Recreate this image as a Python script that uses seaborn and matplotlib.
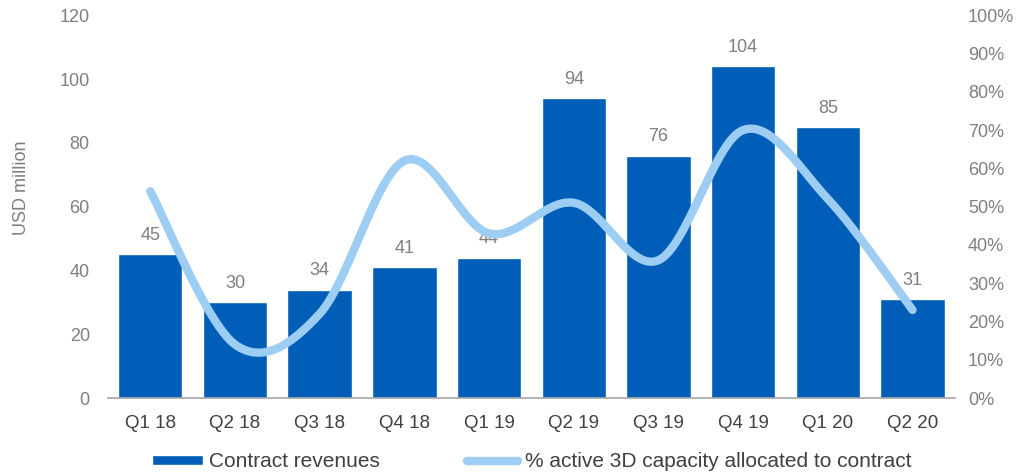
import numpy as np
import pandas as pd
import seaborn as sns
import matplotlib.pyplot as plt
from matplotlib.patches import Patch
from matplotlib.lines import Line2D
from matplotlib.ticker import PercentFormatter

# データ
quarters = ["Q1 18", "Q2 18", "Q3 18", "Q4 18", "Q1 19", "Q2 19", "Q3 19", "Q4 19", "Q1 20", "Q2 20"]
revenues = [45, 30, 34, 41, 44, 94, 76, 104, 85, 31]
capacity_pct = [54, 14, 22, 62, 43, 51, 36, 70, 52, 23]

bar_color = "#005EB8"
line_color = "#9DCDF2"
text_gray = "#7F7F7F"
dark_gray = "#404040"


def smooth(x, y, steps=30):
    # Excel風のスムージング（Catmull-Rom）
    x = np.asarray(x, float)
    y = np.asarray(y, float)
    px = np.concatenate([[x[0]], x, [x[-1]]])
    py = np.concatenate([[y[0]], y, [y[-1]]])
    xs, ys = [], []
    for i in range(1, len(px) - 2):
        t = np.linspace(0, 1, steps, endpoint=False)
        for p, out in ((px, xs), (py, ys)):
            p0, p1, p2, p3 = p[i - 1], p[i], p[i + 1], p[i + 2]
            c1 = p1 + (p2 - p0) / 6
            c2 = p2 - (p3 - p1) / 6
            out.extend((1 - t) ** 3 * p1 + 3 * (1 - t) ** 2 * t * c1
                       + 3 * (1 - t) * t ** 2 * c2 + t ** 3 * p2)
    xs.append(x[-1])
    ys.append(y[-1])
    return np.array(xs), np.array(ys)


df = pd.DataFrame({"quarter": quarters, "revenue": revenues, "pct": capacity_pct})

sns.set_style("white")
plt.rcParams["font.family"] = ["Liberation Sans", "DejaVu Sans"]

fig = plt.figure(figsize=(10.18, 4.75), dpi=100)
ax = fig.add_axes([0.106, 0.162, 0.832, 0.806])

sns.barplot(data=df, x="quarter", y="revenue", color=bar_color, width=0.76,
            saturation=1, ax=ax)
for i, v in enumerate(revenues):
    ax.text(i, v + 3.2, str(v), ha="center", va="bottom", fontsize=13, color=text_gray)

ax.set_ylim(0, 120)
ax.set_yticks(range(0, 121, 20))
ax.set_xlim(-0.5, 9.5)
ax.set_xlabel("")
ax.set_ylabel("USD million", fontsize=13, color=text_gray)
ax.yaxis.set_label_coords(-0.092, 0.548)
ax.tick_params(axis="y", labelsize=13, labelcolor=text_gray, length=0, pad=13)
ax.tick_params(axis="x", labelsize=13.5, labelcolor=dark_gray, length=0, pad=12)
for s in ["top", "right", "left"]:
    ax.spines[s].set_visible(False)
ax.spines["bottom"].set_color("#A6A6A6")
ax.spines["bottom"].set_linewidth(1.2)

ax2 = ax.twinx()
sx, sy = smooth(range(len(quarters)), capacity_pct)
sns.lineplot(x=sx, y=sy, color=line_color, linewidth=6, sort=False, ax=ax2,
             solid_capstyle="round")
ax2.set_ylim(0, 100)
ax2.set_yticks(range(0, 101, 10))
ax2.yaxis.set_major_formatter(PercentFormatter(decimals=0))
ax2.tick_params(axis="y", labelsize=13, labelcolor=text_gray, length=0, pad=9.5)
for s in ax2.spines.values():
    s.set_visible(False)

handles = [Patch(facecolor=bar_color, label="Contract revenues"),
           Line2D([0], [0], color=line_color, linewidth=6,
                  label="% active 3D capacity allocated to contract")]
ax.legend(handles=handles, loc="center", bbox_to_anchor=(0.5, -0.167), ncol=2,
          frameon=False, fontsize=15, labelcolor=dark_gray, handlelength=2.45,
          handleheight=0.4, handletextpad=0.3, columnspacing=4.2)

plt.savefig("out.png", dpi=100)
